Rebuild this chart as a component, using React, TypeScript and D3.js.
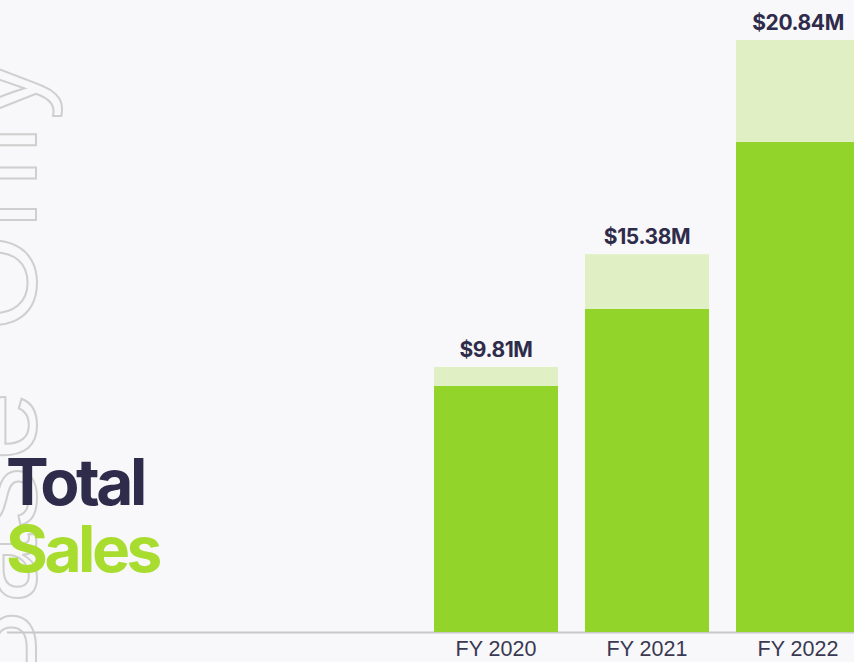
import React from "react";
import * as d3 from "d3";

const categories = ["FY 2020", "FY 2021", "FY 2022"];
const baseSales = [8.66, 11.37, 17.25];
const extraSales = [0.67, 1.93, 3.59];
const totalLabels = ["$9.81M", "$15.38M", "$20.84M"];
const seriesKeys = ["base", "extra"];

const W = 854;
const H = 662;

export default function App() {
  const rows = categories.map((c, i) => ({ cat: c, base: baseSales[i], extra: extraSales[i] }));
  const stacked = d3.stack<any>().keys(seriesKeys)(rows);
  const x = d3.scaleBand<string>().domain(categories).range([434, 860]).paddingInner(0.179).paddingOuter(0);
  const y = d3.scaleLinear().domain([0, 22]).range([632, 7]);
  const colors: Record<string, string> = { base: "#93d42a", extra: "#e0f0c4" };

  return (
    <div style={{ position: "absolute", left: 0, top: 0, width: W, height: H, overflow: "hidden" }}>
      <svg width={W} height={H} style={{ display: "block" }}>
        <rect x={0} y={0} width={W} height={H} fill="#f8f8fa" />
        <text
          transform="translate(36,52) rotate(-90)"
          textAnchor="end"
          fontFamily="'Liberation Sans', Arial, sans-serif"
          fontSize={124}
          letterSpacing={6}
          wordSpacing={14}
          fill="none"
          stroke="#cfcfcf"
          strokeWidth={2}
        >
          Base Only
        </text>
        <line x1={7} x2={W} y1={632.5} y2={632.5} stroke="#c8c8ca" strokeWidth={2} />
        {stacked.map((s) => (
          <g key={s.key} fill={colors[s.key]}>
            {s.map((d, i) => (
              <rect
                key={i}
                x={x(categories[i])}
                width={x.bandwidth()}
                y={y(d[1])}
                height={y(d[0]) - y(d[1])}
              />
            ))}
          </g>
        ))}
        {categories.map((c, i) => (
          <text
            key={"l" + c}
            x={(x(c) as number) + x.bandwidth() / 2}
            y={y(baseSales[i] + extraSales[i]) - 10}
            textAnchor="middle"
            fontFamily="Inter, sans-serif"
            fontWeight={700}
            fontSize={21}
            letterSpacing={-0.4}
            fill="#2f2c4b"
          >
            {totalLabels[i]}
          </text>
        ))}
        {categories.map((c) => (
          <text
            key={"c" + c}
            x={(x(c) as number) + x.bandwidth() / 2}
            y={656}
            textAnchor="middle"
            fontFamily="'Liberation Sans', Arial, sans-serif"
            fontSize={21.5}
            fill="#3a3852"
          >
            {c}
          </text>
        ))}
        <text x={6} y={505} fontFamily="Inter, sans-serif" fontWeight={700} fontSize={64} letterSpacing={-3.5} fill="#2f2c4b">
          Total
        </text>
        <text x={6} y={572} fontFamily="Inter, sans-serif" fontWeight={700} fontSize={64} letterSpacing={-3.5} fill="#a8dd2f">
          Sales
        </text>
      </svg>
    </div>
  );
}
